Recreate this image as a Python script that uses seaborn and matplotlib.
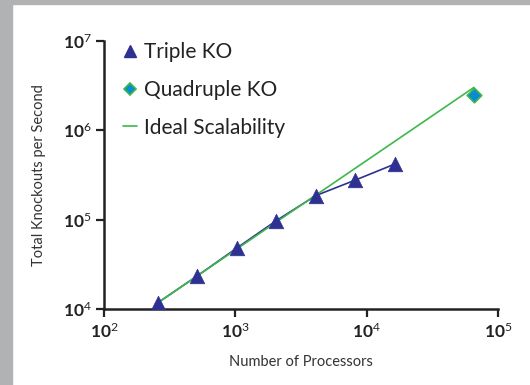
import numpy as np
import pandas as pd
import matplotlib
matplotlib.use("Agg")
import matplotlib.pyplot as plt
from matplotlib.lines import Line2D
from matplotlib.patches import Rectangle
from matplotlib.ticker import FixedLocator, FuncFormatter, NullLocator
import seaborn as sns

# ---- data ----
triple_procs = [256, 512, 1024, 2048, 4096, 8192, 16384]
triple_rate = [11700, 23400, 47900, 97000, 185000, 276000, 417000]
quad_procs = [65536]
quad_rate = [2460000]
ideal_procs = [256, 65536]
ideal_rate = [11700, 2995200]
x_ticks = [1e2, 1e3, 1e4, 1e5]
y_ticks = [1e4, 1e5, 1e6, 1e7]

sns.set_style("ticks")
plt.rcParams['font.family'] = ['Lato', 'DejaVu Sans']
plt.rcParams['mathtext.fontset'] = 'custom'
plt.rcParams['mathtext.rm'] = 'Lato'
plt.rcParams['mathtext.bf'] = 'Lato:bold'
plt.rcParams['mathtext.it'] = 'Lato:italic'

navy = "#2E3192"
green = "#3DB84A"
blue = "#0A8BD2"
txt = "#333333"

fig = plt.figure(figsize=(5.3, 3.85), dpi=100)
fig.patches.append(Rectangle((0, 0), 12 / 530, 1, transform=fig.transFigure,
                             color="#B1B2B4", zorder=-10))
fig.patches.append(Rectangle((0, 1 - 4 / 385), 1, 4 / 385, transform=fig.transFigure,
                             color="#B1B2B4", zorder=-10))
ax = fig.add_axes([104 / 530, 1 - 309 / 385, (498 - 104) / 530, (309 - 40.6) / 385])
ax.set_facecolor("none")

df_t = pd.DataFrame({"p": triple_procs, "r": triple_rate})
df_q = pd.DataFrame({"p": quad_procs, "r": quad_rate})
df_i = pd.DataFrame({"p": ideal_procs, "r": ideal_rate})

sns.lineplot(data=df_t, x="p", y="r", ax=ax, color=navy, lw=1.2, zorder=2)
sns.lineplot(data=df_i, x="p", y="r", ax=ax, color=green, lw=1.2, zorder=3)
sns.scatterplot(data=df_t, x="p", y="r", ax=ax, marker="^", s=110, color=navy,
                edgecolor=navy, linewidth=0.5, zorder=4)
sns.scatterplot(data=df_q, x="p", y="r", ax=ax, marker="D", s=55, color=blue,
                edgecolor=green, linewidth=1.2, zorder=4)

ax.set_xscale("log")
ax.set_yscale("log")
ax.set_xlim(1e2, 1e5)
ax.set_ylim(1e4, 1e7)
ax.xaxis.set_major_locator(FixedLocator(x_ticks))
ax.yaxis.set_major_locator(FixedLocator(y_ticks))
ax.xaxis.set_minor_locator(NullLocator())
ax.yaxis.set_minor_locator(NullLocator())
fmt = FuncFormatter(lambda v, pos: r"$\mathbf{10}^{%d}$" % int(round(np.log10(v))))
ax.xaxis.set_major_formatter(fmt)
ax.yaxis.set_major_formatter(fmt)
ax.tick_params(axis="both", which="major", length=6, width=1.6, direction="out",
               labelsize=12.5, colors="#222222", pad=3)
for s in ["top", "right"]:
    ax.spines[s].set_visible(False)
for s in ["left", "bottom"]:
    ax.spines[s].set_linewidth(1.8)
    ax.spines[s].set_color("#222222")

ax.set_xlabel("Number of Processors", fontsize=10.5, color=txt, labelpad=10)
ax.set_ylabel("Total Knockouts per Second", fontsize=10.5, color=txt, labelpad=12)

handles = [
    Line2D([], [], ls="none", marker="^", ms=8, color=navy),
    Line2D([], [], ls="none", marker="D", ms=6.5, markerfacecolor=blue,
           markeredgecolor=green, markeredgewidth=1.2),
    Line2D([], [], color=green, lw=1.2),
]
labels = ["Triple KO", "Quadruple KO", "Ideal Scalability"]
leg = ax.legend(handles, labels, loc="upper left", bbox_to_anchor=(0.0, 1.065),
                frameon=False, fontsize=15, handlelength=0.7, handletextpad=0.3,
                labelspacing=0.86, borderaxespad=0.5)
for t in leg.get_texts():
    t.set_color("#222222")

fig.savefig("out.png", dpi=100)
